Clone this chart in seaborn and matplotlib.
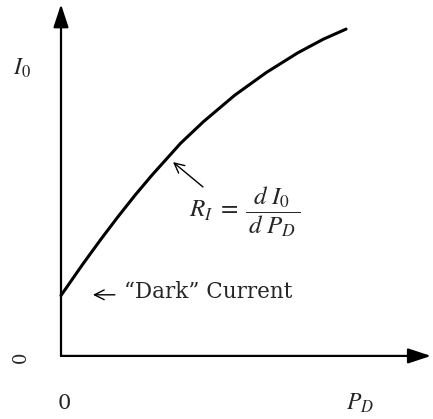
import matplotlib
matplotlib.use("Agg")
import matplotlib.pyplot as plt
import seaborn as sns
import pandas as pd

# Photodetector response: output current I0 versus optical power P_D
power = [0.0, 0.75, 1.4, 2.0, 2.6, 3.2, 4.2, 5.0, 6.1, 7.2, 8.3, 9.2, 10.0]
current = [1.85, 2.79, 3.57, 4.26, 4.92, 5.54, 6.51, 7.17, 7.98, 8.67, 9.27, 9.69, 10.0]

x_label = "$P_D$"
y_label = "$I_0$"
origin_label = "0"
dark_label = "\u201cDark\u201d Current"
slope_label = r"$R_I\;=\;\dfrac{\,d\;I_0\,}{\,d\;P_D\,}$"

sns.set_theme(style="white")
plt.rcParams["font.family"] = ["DejaVu Serif"]
plt.rcParams["mathtext.fontset"] = "stix"

df = pd.DataFrame({"P_D": power, "I_0": current})

fig = plt.figure(figsize=(4.33, 4.19), dpi=100)
ax = fig.add_axes([0, 0, 1, 1])
ax.set_xlim(-2.14, 13.05)
ax.set_ylim(-1.93, 10.89)
ax.axis("off")

# response curve
sns.lineplot(data=df, x="P_D", y="I_0", color="black", lw=2.2, ax=ax)

# axes drawn as arrows from the origin
axis_arrow = dict(arrowstyle="-|>,head_length=0.7,head_width=0.23",
                  mutation_scale=20, lw=1.6, color="black",
                  shrinkA=0, shrinkB=0)
ax.annotate("", xy=(12.98, 0), xytext=(0, 0), arrowprops=axis_arrow)
ax.annotate("", xy=(0, 10.76), xytext=(0, 0), arrowprops=axis_arrow)

# axis labels
ax.text(-1.37, 8.81, y_label, fontsize=17, ha="center", va="center")
ax.text(10.49, -1.44, x_label, fontsize=17, ha="center", va="center")
ax.text(0.12, -1.47, origin_label, fontsize=15, ha="center", va="center")
ax.text(-1.40, -0.03, origin_label, fontsize=13, ha="center", va="center",
        rotation=90)

# pointer arrows
thin_arrow = dict(arrowstyle="->,head_length=0.5,head_width=0.25",
                  mutation_scale=14, lw=1.0, color="black",
                  shrinkA=0, shrinkB=0)
ax.annotate("", xy=(1.12, 1.87), xytext=(1.89, 1.87), arrowprops=thin_arrow)
ax.text(2.21, 1.77, dark_label, fontsize=15.5, ha="left", va="baseline")

ax.annotate("", xy=(3.93, 5.93), xytext=(4.98, 5.17), arrowprops=thin_arrow)
ax.text(6.46, 4.40, slope_label, fontsize=18, ha="center", va="center")

fig.savefig("out.png", dpi=100, facecolor="white")
